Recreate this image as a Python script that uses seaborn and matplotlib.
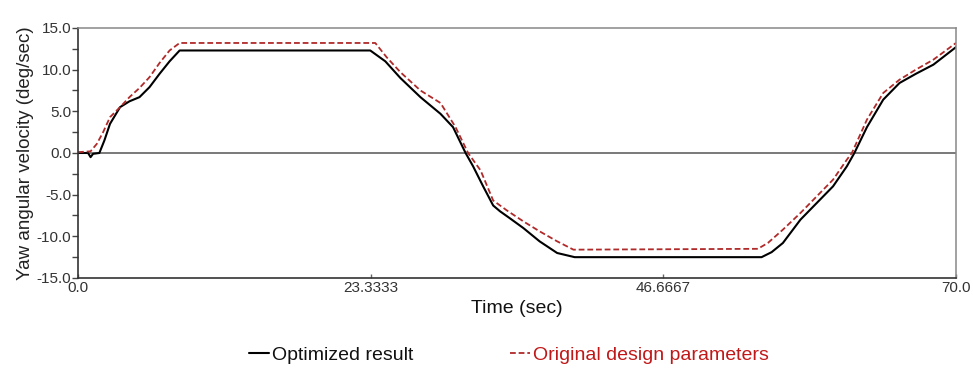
import numpy as np
import pandas as pd
import matplotlib
matplotlib.use("Agg")
import matplotlib.pyplot as plt
import seaborn as sns
from matplotlib.ticker import MultipleLocator, FixedLocator

# ---- data ----
t_opt = [0, 0.8, 1.0, 1.2, 1.7, 2.1, 2.55, 3.35, 4.1, 4.9, 5.7, 6.5, 7.3, 8.1,
         23.3, 24.5, 25.7, 27.3, 28.9, 29.9, 30.9, 31.5, 32.3, 33.1, 33.65, 34.4,
         35.5, 36.8, 38.2, 39.6, 54.5, 55.3, 56.2, 57.6, 58.9, 60.2, 61.3, 61.9,
         62.9, 64.2, 65.5, 66.8, 68.2, 70.0]
v_opt = [0, 0, -0.5, -0.1, 0, 1.5, 3.5, 5.5, 6.2, 6.7, 7.9, 9.5, 11.0, 12.3,
         12.3, 11.0, 9.0, 6.7, 4.7, 3.1, 0, -1.6, -4.0, -6.3, -7.0, -7.8,
         -9.0, -10.6, -12.0, -12.5, -12.5, -11.9, -10.8, -8.0, -6.0, -4.0, -1.6, 0,
         3.1, 6.4, 8.4, 9.5, 10.6, 12.7]

t_orig = [0, 1.0, 1.5, 2.0, 2.55, 3.35, 4.1, 4.9, 5.7, 6.5, 7.3, 8.1,
          23.7, 24.6, 25.7, 27.3, 28.9, 30.1, 31.1, 32.1, 33.1, 34.2, 35.5,
          36.8, 38.2, 39.5, 54.2, 55.0, 56.2, 57.6, 58.9, 60.2, 61.3, 61.7,
          62.9, 64.2, 65.5, 66.8, 68.2, 70.0]
v_orig = [0.1, 0.2, 1.1, 2.5, 4.3, 5.5, 6.7, 7.8, 9.1, 10.8, 12.3, 13.2,
          13.2, 11.5, 9.7, 7.5, 6.0, 3.1, 0, -2.1, -5.7, -6.9, -8.2,
          -9.4, -10.6, -11.6, -11.5, -10.8, -9.2, -7.2, -5.2, -3.2, -0.8, 0,
          4.0, 7.2, 8.8, 10.0, 11.2, 13.2]

x_ticks = [0.0, 23.3333, 46.6667, 70.0]
x_tick_labels = ["0.0", "23.3333", "46.6667", "70.0"]
y_ticks = [-15, -10, -5, 0, 5, 10, 15]
labels = ["Optimized result", "Original design parameters"]

# ---- plot ----
sns.set_style("white")
plt.rcParams["font.family"] = ["Liberation Sans", "DejaVu Sans"]

fig = plt.figure(figsize=(9.73, 3.73), dpi=100)
ax = fig.add_axes([0.0802, 0.2547, 0.9023, 0.6703])

red = "#b02a2a"
sns.lineplot(x=t_opt, y=v_opt, ax=ax, color="black", linewidth=1.5,
             sort=False, estimator=None, label=labels[0])
sns.lineplot(x=t_orig, y=v_orig, ax=ax, color=red, linewidth=1.3,
             sort=False, estimator=None, label=labels[1])
ax.lines[1].set_linestyle((0, (3.2, 1.6)))

ax.axhline(0, color="#555555", linewidth=1.1, zorder=0)

ax.set_xlim(0, 70)
ax.set_ylim(-15, 15)
ax.xaxis.set_major_locator(FixedLocator(x_ticks))
ax.set_xticklabels(x_tick_labels)
ax.yaxis.set_major_locator(FixedLocator(y_ticks))
ax.set_yticklabels([f"{v:.1f}" for v in y_ticks])
ax.yaxis.set_minor_locator(MultipleLocator(2.5))

ax.tick_params(axis="y", which="both", direction="out", left=True, length=4,
               width=1, color="#444444", labelsize=11, labelcolor="#333333", pad=1)
ax.tick_params(axis="x", which="both", direction="in", bottom=True, length=3,
               width=1, color="#666666", labelsize=11, labelcolor="#333333", pad=2)

for s in ["top", "right"]:
    ax.spines[s].set_color("#888888")
    ax.spines[s].set_linewidth(1.1)
for s in ["left", "bottom"]:
    ax.spines[s].set_color("#333333")
    ax.spines[s].set_linewidth(1.2)

ax.set_xlabel("Time (sec)", fontsize=14, color="#111111", labelpad=4)
ax.set_ylabel("Yaw angular velocity (deg/sec)", fontsize=13.5, color="#222222", labelpad=2)

leg = ax.legend(loc="center", bbox_to_anchor=(0.523, 0.048), bbox_transform=fig.transFigure,
                ncol=2, frameon=False, fontsize=14, handlelength=1.0, handletextpad=0.15,
                columnspacing=5.0)
for txt, c in zip(leg.get_texts(), ["#111111", "#c01818"]):
    txt.set_color(c)

fig.savefig("out.png", dpi=100)
